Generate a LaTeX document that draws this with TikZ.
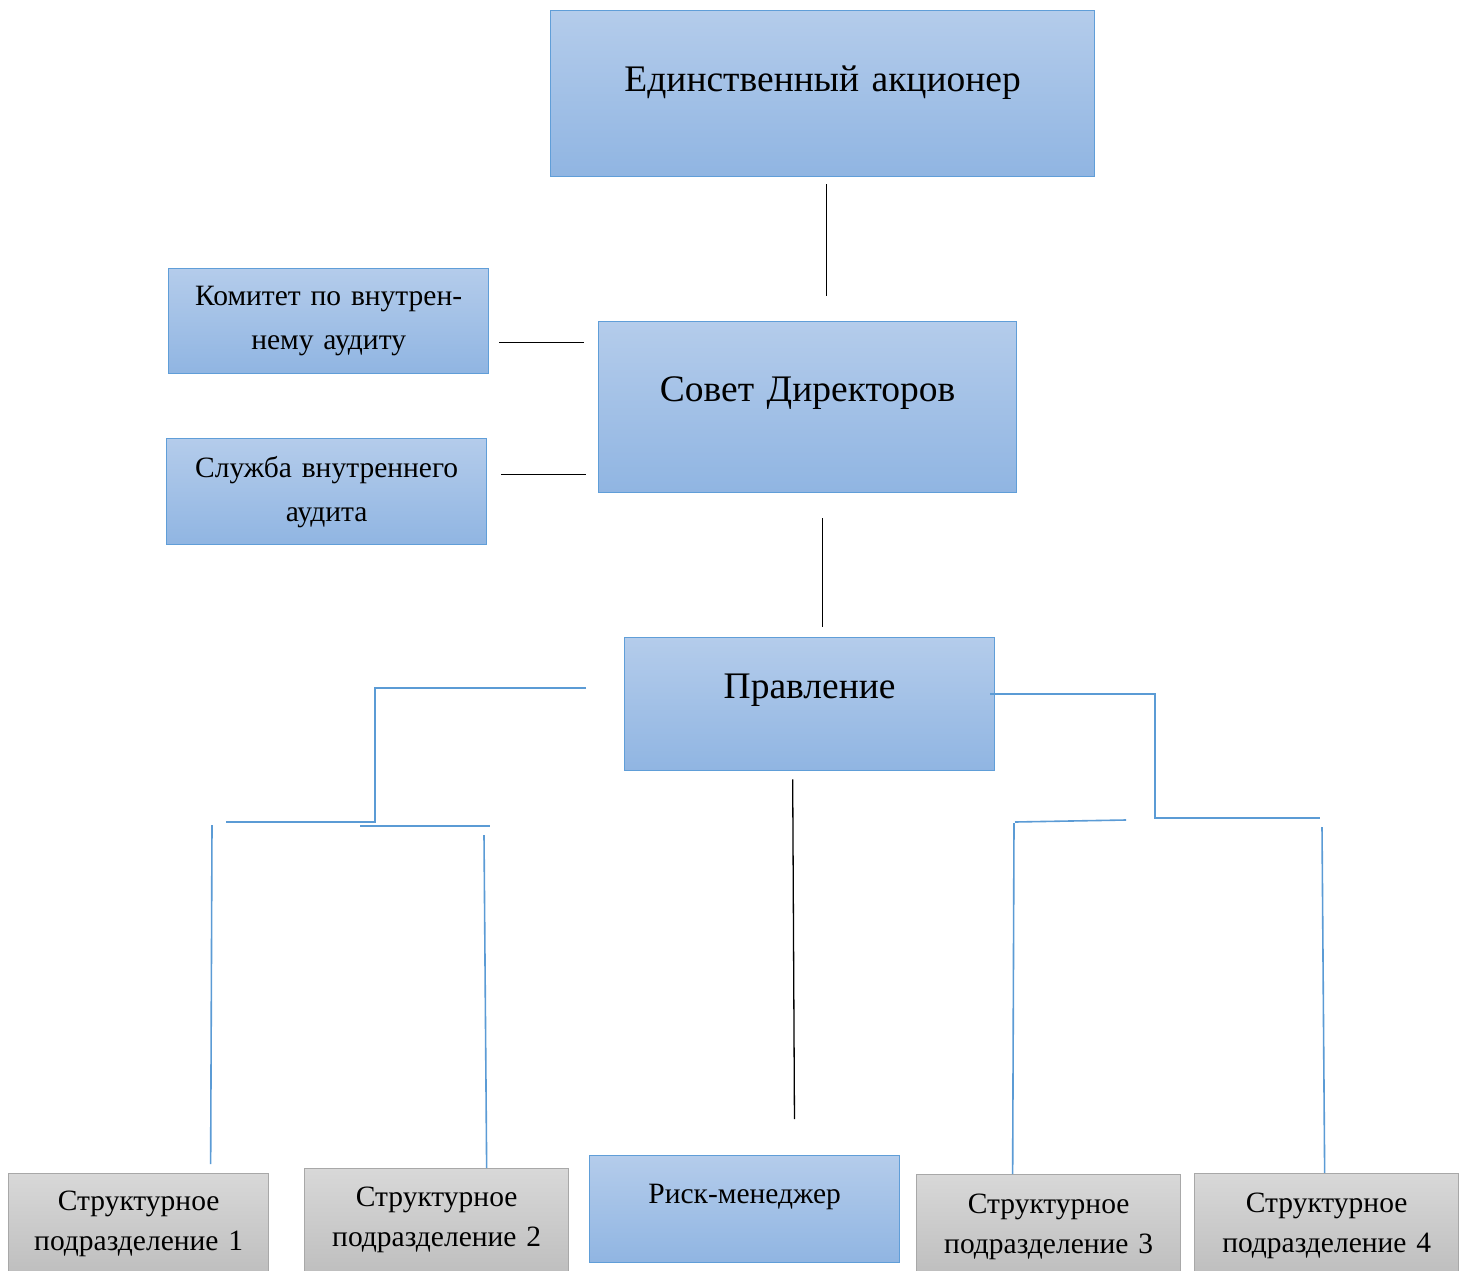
\documentclass[tikz,border=0pt]{standalone}
\usepackage{fontspec}
\setmainfont{Liberation Serif}[WordSpace=0.7]
\usepackage{tikz}
\usetikzlibrary{positioning}

\definecolor{boxtop}{RGB}{180,204,235}
\definecolor{boxbot}{RGB}{144,181,226}
\definecolor{boxline}{RGB}{96,158,216}
\definecolor{greytop}{RGB}{216,216,216}
\definecolor{greybot}{RGB}{190,190,190}
\definecolor{greyline}{RGB}{168,168,168}
\definecolor{linkblue}{RGB}{91,155,213}

\begin{document}
\begin{tikzpicture}[x=1pt,y=-1pt,>=latex]

\tikzstyle{blue box}=[draw=boxline,line width=1.3pt,top color=boxtop,bottom color=boxbot,inner sep=0pt,align=center,anchor=north west]
\tikzstyle{grey box}=[blue box,draw=greyline,top color=greytop,bottom color=greybot]
\tikzstyle{big}=[font=\fontsize{37.5}{44}\selectfont]
\tikzstyle{mid}=[font=\fontsize{29.5}{44}\selectfont]
\tikzstyle{low}=[font=\fontsize{29.5}{40}\selectfont]
\tikzstyle{kline}=[draw=black,line width=1.3pt]
\tikzstyle{bline}=[draw=linkblue,line width=1.6pt]

\useasboundingbox (0,0) rectangle (1464,1271);

    \node[blue box,big,text width=544pt,text height=81pt,text depth=85pt] (ed) at (550,10) {Единственный акционер};
    \node[blue box,mid,text width=320pt,text height=37pt,text depth=68pt] (kom) at (168,268) {Комитет по внутрен-\\нему аудиту};
    \node[blue box,mid,text width=320pt,text height=39pt,text depth=67pt] (slu) at (166,438) {Служба внутреннего\\аудита};
    \node[blue box,big,text width=418pt,text height=80pt,text depth=91pt] (sd) at (598,321) {Совет Директоров};
    \node[blue box,big,text width=370pt,text height=61pt,text depth=72pt] (pr) at (624,637) {Правление};

    \node[grey box,low,text width=260pt,text height=37pt,text depth=65pt] (sp1) at (8,1173) {Структурное\\подразделение 1};
    \node[grey box,low,text width=264pt,text height=38pt,text depth=69pt] (sp2) at (304,1168) {Структурное\\подразделение 2};
    \node[blue box,low,text width=310pt,text height=48pt,text depth=59pt] (risk) at (589,1155) {Риск-менеджер};
    \node[grey box,low,text width=264pt,text height=39pt,text depth=62pt] (sp3) at (916,1174) {Структурное\\подразделение 3};
    \node[grey box,low,text width=264pt,text height=39pt,text depth=63pt] (sp4) at (1194,1173) {Структурное\\подразделение 4};

% black links
\path[kline]
    ([xshift=4pt]ed.south) edge[shorten <=7pt,shorten >=25pt] ([xshift=4pt]ed.south |- sd.north)
    ([yshift=-21.5pt]kom.east) edge[shorten <=10pt,shorten >=14pt] ([yshift=-21.5pt]kom.east -| sd.west)
    ([yshift=17pt]slu.east) edge[shorten <=14pt,shorten >=12pt] ([yshift=17pt]slu.east -| sd.west)
    ([xshift=15pt]sd.south) edge[shorten <=25pt,shorten >=10pt] ([xshift=15pt]sd.south |- pr.north)
    ([xshift=-17pt]pr.south) edge[shorten <=8pt,shorten >=36pt] ([xshift=50pt]risk.north);

% blue links
\coordinate (lstart) at (586,688);
\coordinate (lcorner) at (375,822);
\coordinate (lend) at (226,822);
\coordinate (rstart) at (990,694);
\coordinate (rcorner) at (1155,818);
\coordinate (rend) at (1320,818);

\draw[bline] (lstart) -| (lcorner) -- (lend);
\draw[bline] (360,826) coordinate (lbar1) -- (490,826) coordinate (lbar2);
\draw[bline] (212,825) coordinate (ltop1) -- ([xshift=72pt,yshift=9pt]sp1.north);
\draw[bline] (484,835) coordinate (ltop2) -- ([xshift=50pt]sp2.north);

\draw[bline] (rstart) -| (rcorner) -- (rend);
\draw[bline] (1015,822) coordinate (rbar1) -- (1126,820) coordinate (rbar2);
\draw[bline] (1014,823) coordinate (rtop3) -- ([xshift=-36pt]sp3.north);
\draw[bline] (1322,827) coordinate (rtop4) -- ([xshift=-2pt]sp4.north);

\end{tikzpicture}
\end{document}
